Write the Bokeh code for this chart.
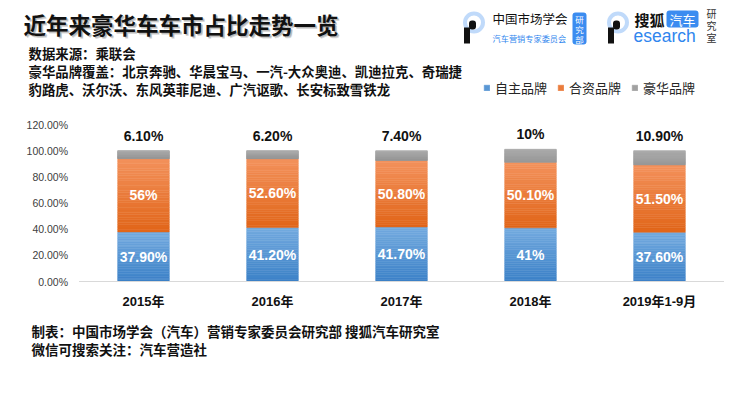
from bokeh.plotting import figure
from bokeh.models import (Range1d, FixedTicker, PrintfTickFormatter, Label,
                          BoxAnnotation, Legend, LegendItem)
from bokeh.embed import file_html
from bokeh.resources import INLINE
from bokeh.core.properties import value
import numpy as np

# ---------------- data ----------------
categories = ["2015年", "2016年", "2017年", "2018年", "2019年1-9月"]
domestic = [37.9, 41.2, 41.7, 41.0, 37.6]      # 自主品牌
joint = [56.0, 52.6, 50.8, 50.1, 51.5]         # 合资品牌
luxury = [6.1, 6.2, 7.4, 10.0, 10.9]           # 豪华品牌
domestic_labels = ["37.90%", "41.20%", "41.70%", "41%", "37.60%"]
joint_labels = ["56%", "52.60%", "50.80%", "50.10%", "51.50%"]
luxury_labels = ["6.10%", "6.20%", "7.40%", "10%", "10.90%"]
series_names = ["自主品牌", "合资品牌", "豪华品牌"]
y_ticks = [0, 20, 40, 60, 80, 100, 120]

CJK = "Noto Sans CJK SC"
NUM = "'Liberation Sans', 'Noto Sans CJK SC'"
BLUE = "#2f86ee"
W, H = 737, 385

# layout geometry (pixels): category spacing, first center, zero line, px per %
STEP, X0, Y0, PPU = 129.0, 143.0, 281.0, 157.0 / 120.0

p = figure(width=W, height=H, output_backend="svg", toolbar_location=None,
           x_range=Range1d(-X0 / STEP, (W - X0) / STEP),
           y_range=Range1d((Y0 - H) / PPU, Y0 / PPU),
           min_border=0, min_border_left=0, min_border_right=0,
           min_border_top=0, min_border_bottom=0)
p.outline_line_color = None
p.xgrid.grid_line_color = None
p.ygrid.grid_line_color = None

idx = np.arange(len(categories))

# ---------------- bars with vertical gradient ----------------
grad = [
    ("#3d82c8", "#73aadf"),   # blue bottom -> top
    ("#e1661a", "#f3915b"),   # orange
    ("#969696", "#ababab"),   # gray
]
N = 30
bottoms = np.zeros(len(categories))
legend_renderers = []
for vals, (c0, c1) in zip([domestic, joint, luxury], grad):
    vals = np.array(vals)
    a = np.array([int(c0[i:i + 2], 16) for i in (1, 3, 5)])
    b = np.array([int(c1[i:i + 2], 16) for i in (1, 3, 5)])
    mid = None
    for k in range(N):
        f = k / (N - 1)
        rgb = a + (b - a) * f
        col = "#%02x%02x%02x" % tuple(int(round(v)) for v in rgb)
        r = p.vbar(x=idx, bottom=bottoms + vals * k / N,
                   top=bottoms + vals * (k + 1) / N, width=0.4,
                   fill_color=col, line_color=col, line_width=0.5)
        if k == N // 2:
            mid = r
    legend_renderers.append(mid)
    bottoms = bottoms + vals

# baseline of the category axis, spanning the categories
p.segment(x0=[-0.5], x1=[len(categories) - 0.5], y0=[0], y1=[0],
          line_color="#d9d9d9", line_width=1)

dom = np.array(domestic)
jnt = np.array(joint)
lux = np.array(luxury)
p.text(x=idx, y=dom / 2, text=domestic_labels, text_align="center",
       text_baseline="middle", text_color="white", text_font=value(NUM),
       text_font_style="bold", text_font_size="14px")
p.text(x=idx, y=dom + jnt / 2, text=joint_labels, text_align="center",
       text_baseline="middle", text_color="white", text_font=value(NUM),
       text_font_style="bold", text_font_size="14px")
p.text(x=idx, y=dom + jnt + lux, y_offset=-15, text=luxury_labels,
       text_align="center", text_baseline="middle", text_color="#111111",
       text_font=value(NUM), text_font_style="bold", text_font_size="14px")

# ---------------- axes (fixed inside the canvas) ----------------
p.yaxis.fixed_location = -0.5
p.yaxis.ticker = FixedTicker(ticks=y_ticks)
p.yaxis.formatter = PrintfTickFormatter(format="%.2f%%")
p.yaxis.axis_line_color = None
p.yaxis.major_tick_line_color = None
p.yaxis.minor_tick_line_color = None
p.yaxis.major_tick_out = 0
p.yaxis.major_tick_in = 0
p.yaxis.major_label_standoff = 11
p.yaxis.major_label_text_font = "Liberation Sans"
p.yaxis.major_label_text_font_size = "10.5px"
p.yaxis.major_label_text_color = "#404040"

p.xaxis.fixed_location = 0
p.xaxis.ticker = FixedTicker(ticks=[float(i) for i in idx])
p.xaxis.major_label_overrides = {float(i): c for i, c in zip(idx, categories)}
p.xaxis.axis_line_color = None
p.xaxis.major_tick_line_color = None
p.xaxis.minor_tick_line_color = None
p.xaxis.major_tick_out = 0
p.xaxis.major_tick_in = 0
p.xaxis.major_label_standoff = 12
p.xaxis.major_label_text_font = NUM
p.xaxis.major_label_text_font_style = "bold"
p.xaxis.major_label_text_font_size = "13px"
p.xaxis.major_label_text_color = "#111111"

# ---------------- legend ----------------
legend = Legend(items=[LegendItem(label=n, renderers=[r]) for n, r in zip(series_names, legend_renderers)],
                location=(483, 288), orientation="horizontal", glyph_width=7,
                glyph_height=7, label_standoff=5, spacing=10, padding=0, margin=0,
                label_text_font=CJK, label_text_font_size="13px",
                label_text_color="#262626", label_height=14,
                border_line_color=None, background_fill_alpha=0)
p.add_layout(legend)


# ---------------- texts (page pixel positions) ----------------
def lab(px, py, text, size, color="#111111", style="normal", font=CJK, align="left", alpha=1.0):
    p.add_layout(Label(x=px, y=H - py, x_units="screen", y_units="screen", text=text,
                       text_font=font, text_font_size=size, text_font_style=style,
                       text_color=color, text_alpha=alpha, text_align=align,
                       text_baseline="middle"))


def box(l, r, t, b, color, radius=0, ring=False):
    kw = dict(left=l, right=r, top=H - t, bottom=H - b, left_units="screen",
              right_units="screen", top_units="screen", bottom_units="screen",
              border_radius=radius)
    if ring:
        kw.update(fill_alpha=0, line_color=color, line_width=4)
    else:
        kw.update(fill_color=color, fill_alpha=1, line_color=None)
    p.add_layout(BoxAnnotation(**kw))


title = "近年来豪华车车市占比走势一览"
lab(25, 25, title, "22.5px", "#666666", "bold", alpha=0.25)
lab(24.5, 24.5, title, "22.5px", "#666666", "bold", alpha=0.3)
lab(23, 23, title, "22.5px", "#111111", "bold")

lab(28, 52, "数据来源：乘联会", "13.4px", style="bold")
lab(28, 70, "豪华品牌覆盖：北京奔驰、华晨宝马、一汽-大众奥迪、凯迪拉克、奇瑞捷", "13.4px", style="bold")
lab(28, 88, "豹路虎、沃尔沃、东风英菲尼迪、广汽讴歌、长安标致雪铁龙", "13.4px", style="bold")

lab(31, 330, "制表：中国市场学会（汽车）营销专家委员会研究部 搜狐汽车研究室", "13.5px", style="bold")
lab(31, 348, "微信可搜索关注：汽车营造社", "13.5px", style="bold")

# logos
for cx in (473.5, 617.5):
    box(cx - 9, cx + 9, 13, 31, BLUE, radius=9, ring=True)
    box(cx - 10, cx - 4, 27, 43, "#111111")
    box(cx - 5, cx + 2, 20, 29, "#111111", radius=3)

lab(492, 18, "中国市场学会", "12.5px", "#111111")
lab(492, 37, "汽车营销专家委员会", "8.2px", BLUE)
box(572, 586, 12, 44, "#3b8cf0", radius=3)
for yy, ch in zip([18, 28, 38], "研究部"):
    lab(579, yy, ch, "8.5px", "white", align="center")

lab(634, 19, "搜狐", "15px", "#111111", "bold")
box(666, 698, 10, 27, "#3b8cf0", radius=3)
lab(682, 18.5, "汽车", "13px", "white", align="center")
lab(633, 35, "esearch", "17.5px", BLUE, font="Liberation Sans")
for yy, ch in zip([13, 25, 37], "研究室"):
    lab(711, yy, ch, "10px", "#333333", align="center")

open("out.html", "w").write(file_html(p, INLINE))
